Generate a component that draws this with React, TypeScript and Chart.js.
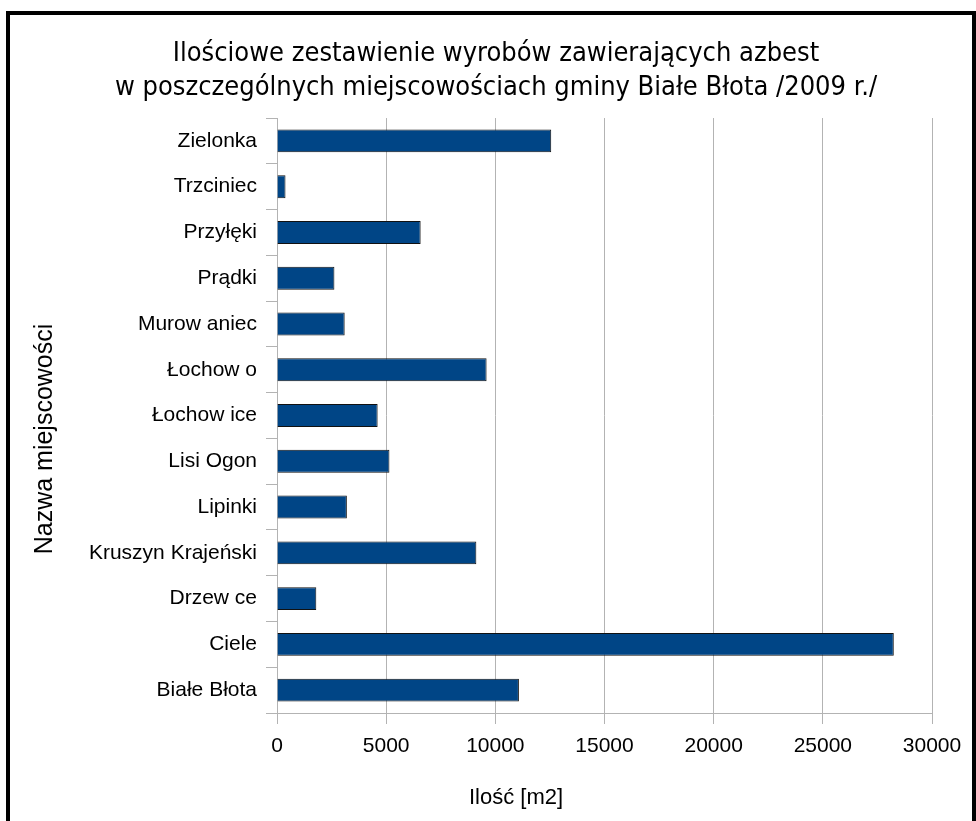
import React, { useEffect, useRef } from "react";
import { Chart, registerables } from "chart.js";

Chart.register(...registerables);

const TITLE_LINES = [
  "Ilościowe zestawienie wyrobów zawierających azbest",
  "w poszczególnych miejscowościach gminy Białe Błota /2009 r./",
];
const CATEGORIES = [
  "Zielonka",
  "Trzciniec",
  "Przyłęki",
  "Prądki",
  "Murow aniec",
  "Łochow o",
  "Łochow ice",
  "Lisi Ogon",
  "Lipinki",
  "Kruszyn Krajeński",
  "Drzew ce",
  "Ciele",
  "Białe Błota",
];
const VALUES = [12560, 390, 6580, 2630, 3100, 9600, 4610, 5150, 3200, 9130, 1800, 28250, 11080];
const X_MIN = 0;
const X_MAX = 30000;
const X_STEP = 5000;
const X_TITLE = "Ilość [m2]";
const Y_TITLE = "Nazwa miejscowości";

const LABEL_FONT = "'Liberation Sans', Arial, sans-serif";
const TITLE_FONT = "'DejaVu Sans Condensed', 'DejaVu Sans', sans-serif";
const GRID = "#b3b3b3";

const axisTitles = {
  id: "axisTitles",
  afterDraw(chart: any) {
    const ctx = chart.ctx;
    ctx.save();
    ctx.fillStyle = "#000";
    ctx.textAlign = "center";
    ctx.textBaseline = "middle";
    ctx.font = `22px ${LABEL_FONT}`;
    ctx.fillText(X_TITLE, 516, 798);
    ctx.font = `25px ${LABEL_FONT}`;
    ctx.translate(45, 439);
    ctx.rotate(-Math.PI / 2);
    ctx.fillText(Y_TITLE, 0, 0);
    ctx.restore();
  },
};

export default function App() {
  const ref = useRef<HTMLCanvasElement | null>(null);

  useEffect(() => {
    if (!ref.current) return;
    const chart = new Chart(ref.current, {
      type: "bar",
      data: {
        labels: CATEGORIES,
        datasets: [
          {
            data: VALUES,
            backgroundColor: "#004586",
            borderColor: "#111111",
            borderWidth: 1,
            categoryPercentage: 1,
            barPercentage: 0.5,
          },
        ],
      },
      options: {
        indexAxis: "y",
        animation: false,
        responsive: false,
        devicePixelRatio: 1,
        layout: { padding: { left: 60, right: 44, top: 0, bottom: 0 } },
        plugins: {
          legend: { display: false },
          tooltip: { enabled: false },
          title: {
            display: true,
            text: TITLE_LINES,
            color: "#000",
            font: { family: TITLE_FONT, size: 27, weight: "normal", lineHeight: 1.26 },
            padding: { top: 37, bottom: 13 },
          },
        },
        scales: {
          x: {
            type: "linear",
            min: X_MIN,
            max: X_MAX,
            ticks: {
              stepSize: X_STEP,
              color: "#000",
              font: { family: LABEL_FONT, size: 21 },
              padding: 10,
              callback: (v: any) => String(v),
            },
            grid: { color: GRID, tickLength: 11, tickColor: GRID },
            border: { color: GRID },
            afterFit: (s: any) => {
              s.height = 108;
            },
          },
          y: {
            ticks: {
              color: "#000",
              font: { family: LABEL_FONT, size: 21 },
              padding: 9,
            },
            grid: {
              drawOnChartArea: false,
              tickLength: 11,
              tickColor: GRID,
              color: GRID,
            },
            border: { color: GRID },
            afterFit: (s: any) => {
              s.width = 217;
            },
          },
        },
      },
      plugins: [axisTitles],
    });
    return () => chart.destroy();
  }, []);

  return (
    <div
      style={{
        position: "fixed",
        left: 0,
        top: 0,
        width: 976,
        height: 821,
        overflow: "hidden",
        background: "#fff",
      }}
    >
      <canvas
        ref={ref}
        width={976}
        height={821}
        style={{ position: "absolute", left: 0, top: 0, width: 976, height: 821 }}
      />
      <div
        style={{
          position: "absolute",
          left: 6,
          top: 11,
          width: 970,
          height: 840,
          boxSizing: "border-box",
          border: "4px solid #000",
          pointerEvents: "none",
        }}
      />
    </div>
  );
}
